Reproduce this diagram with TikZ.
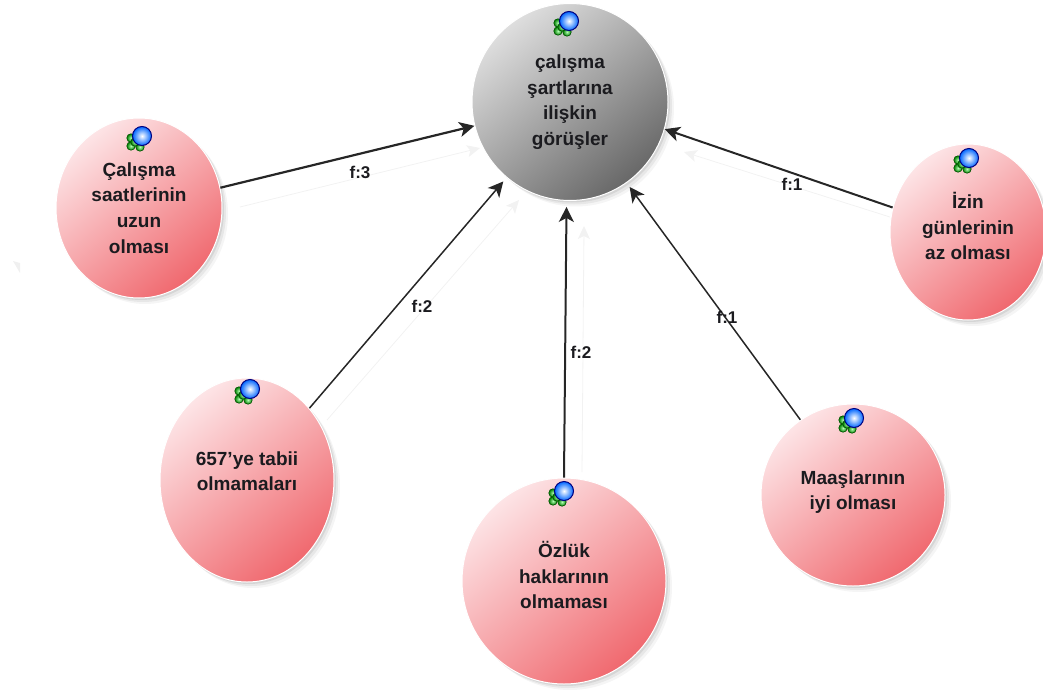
\documentclass[tikz,border=0pt]{standalone}
\usepackage{fontspec}
\setmainfont{Liberation Sans}
\usetikzlibrary{arrows.meta,shapes.geometric,shadows}
\definecolor{pembeA}{HTML}{FDE4E6}
\definecolor{pembeB}{HTML}{FAC0C4}
\definecolor{pembeC}{HTML}{F0696F}
\definecolor{griA}{HTML}{DEDEDE}
\definecolor{griB}{HTML}{BCBCBC}
\definecolor{griC}{HTML}{686868}
\definecolor{yazi}{HTML}{1B1B1F}
\tikzset{
  softshadow/.style={
    general shadow={shadow xshift=6pt,shadow yshift=-6pt,opacity=.04,fill=black},
    general shadow={shadow xshift=4pt,shadow yshift=-4pt,opacity=.06,fill=black},
    general shadow={shadow xshift=2pt,shadow yshift=-2pt,opacity=.08,fill=black}},
  tema/.style={ellipse,inner sep=0pt,draw=white,line width=1pt,softshadow,align=center,text=yazi,
    font=\fontsize{19}{25.6}\selectfont\bfseries},
  alt/.style={tema,top color=pembeA,middle color=pembeB,bottom color=pembeC,shading angle=40},
  merkez/.style={tema,top color=griA,middle color=griB,bottom color=griC,shading angle=40},
  ok/.style={-{Stealth[length=15pt,width=15pt,inset=4pt]},color=black!85},
  hayalet/.style={-{Stealth[length=13pt,width=12pt,inset=3pt]},color=black!5,line width=.8pt},
  frekans/.style={font=\fontsize{17}{20}\selectfont\bfseries,text=yazi,inner sep=0pt},
  icon/.pic={
    \foreach \gx/\gy in {-11/2,-11/10,-2/11,-7/6}
      \fill[draw=green!35!black,line width=.6pt,inner color=green!30!white,outer color=green!50!black] (\gx,\gy) circle (4.2);
    \fill[draw=blue!50!black,line width=1pt,inner color=white,outer color=blue!60!cyan] (0,0) circle (9.5);
  }
}
\begin{document}
\begin{tikzpicture}[x=1pt,y=-1pt]
  \useasboundingbox (0,0) rectangle (1043,696);
  \fill[black!6] (13,261) -- (20,263) -- (20,273) -- cycle;

  % ana dugumler
  \node[merkez,minimum width=196pt,minimum height=197pt] (gorus) at (570,102) {çalışma\\şartlarına\\ilişkin\\görüşler};
  \node[alt,minimum width=166pt,minimum height=180pt] (saat) at (139,208) {Çalışma\\saatlerinin\\uzun\\olması};
  \node[alt,minimum width=156pt,minimum height=176pt,text depth=12pt] (izin) at (968,232) {İzin\\günlerinin\\az olması};
  \node[alt,minimum width=174pt,minimum height=204pt,text depth=18pt] (tabii) at (247,480) {657’ye tabii\\olmamaları};
  \node[alt,minimum width=204pt,minimum height=206pt,text depth=12pt] (ozluk) at (564,581) {Özlük\\haklarının\\olmaması};
  \node[alt,minimum width=184pt,minimum height=182pt,text depth=10pt] (maas) at (853,495) {Maaşlarının\\iyi olması};

  \pic at (569,21) {icon};
  \pic at (142,136) {icon};
  \pic at (969,158) {icon};
  \pic at (250,389) {icon};
  \pic at (564,491) {icon};
  \pic at (854,418) {icon};

  % soluk oklar
  \coordinate (h1a) at (240,207);
  \coordinate (h1b) at (480,148);
  \coordinate (h2a) at (327,420);
  \coordinate (h2b) at (519,200);
  \coordinate (h3a) at (582,472);
  \coordinate (h3b) at (584,226);
  \coordinate (h4a) at (890,217);
  \coordinate (h4b) at (684,152);
  \draw[hayalet] (h1a) -- (h1b);
  \draw[hayalet] (h2a) -- (h2b);
  \draw[hayalet] (h3a) -- (h3b);
  \draw[hayalet] (h4a) -- (h4b);

  \draw[ok,line width=2.2pt] (saat.14) -- (gorus.194);
  \draw[ok,line width=1.5pt,shorten >=5pt] (tabii.49) -- (gorus.230);
  \draw[ok,line width=2pt,shorten >=6pt] (ozluk.north) -- (gorus.268);
  \draw[ok,line width=1.5pt,shorten >=5pt] (maas.125) -- (gorus.305);
  \draw[ok,line width=2pt] (izin.162) -- (gorus.344);

  \node[frekans] (f3) at (360,172) {f:3};
  \node[frekans] (f2a) at (422,306) {f:2};
  \node[frekans] (f2b) at (581,352) {f:2};
  \node[frekans] (f1a) at (727,317) {f:1};
  \node[frekans] (f1b) at (792,184) {f:1};
\end{tikzpicture}
\end{document}
